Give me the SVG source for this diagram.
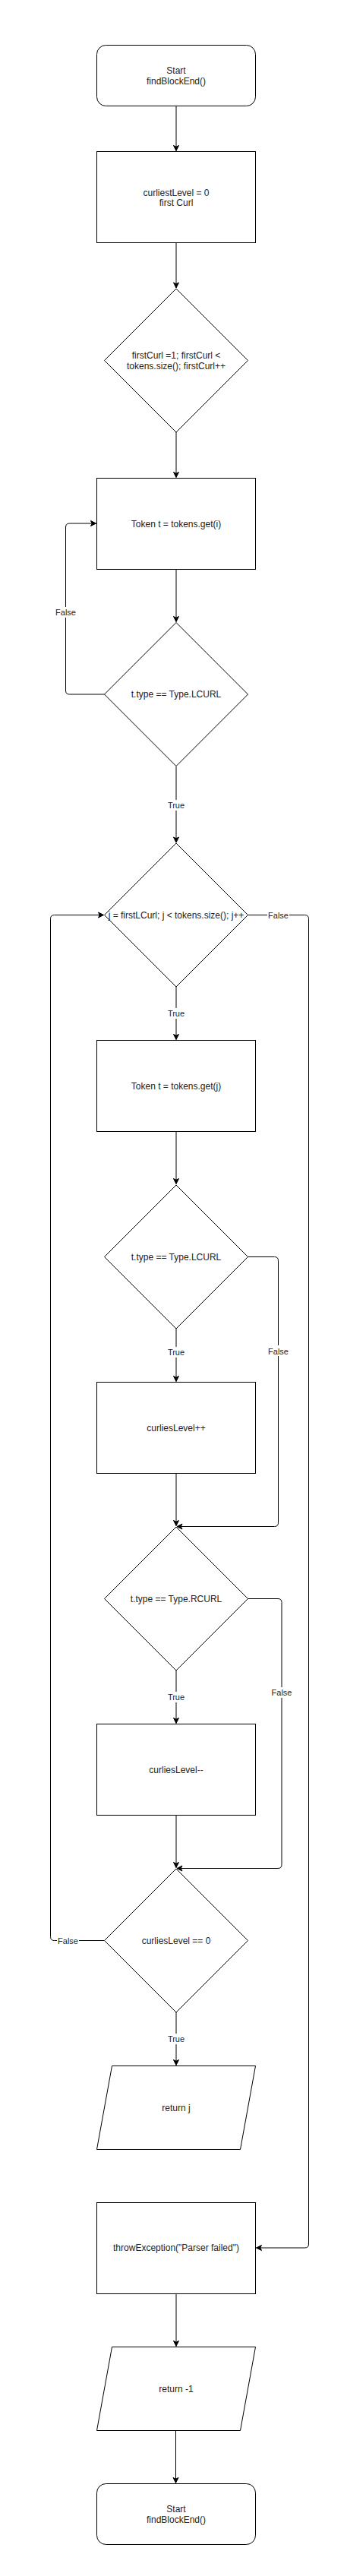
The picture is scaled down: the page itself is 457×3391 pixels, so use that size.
<svg xmlns="http://www.w3.org/2000/svg" width="457" height="3391" viewBox="0 0 457 3391">
<style>
.n{fill:#fff;stroke:#000;stroke-width:1}
.t{font-family:"Liberation Sans",Arial,sans-serif;font-size:12px;fill:#222;text-anchor:middle}
.e{fill:none;stroke:#000;stroke-width:1}
.l{font-family:"Liberation Sans",Arial,sans-serif;font-size:11px;fill:#222;text-anchor:middle}
.lb{fill:#fff;stroke:none}
</style>
<defs>
<marker id="a" markerWidth="10" markerHeight="10" viewBox="-8 -5 10 10" refX="0" refY="0" orient="auto" markerUnits="userSpaceOnUse">
<path d="M-7,-3.5 L0,0 L-7,3.5 L-5.25,0 Z" fill="#000" stroke="#000" stroke-width="1"/>
</marker>
</defs>
<rect width="457" height="3391" fill="#fff"/>
<g id="connectors">
<path class="e" d="M232,139.5 L232,198.5" marker-end="url(#a)"/>
<path class="e" d="M232,319.5 L232,379" marker-end="url(#a)"/>
<path class="e" d="M232,569 L232,628.5" marker-end="url(#a)"/>
<path class="e" d="M232,749.5 L232,818.5" marker-end="url(#a)"/>
<path class="e" d="M137.5,914 L91.5,914 Q86.5,914 86.5,909 L86.5,694 Q86.5,689 91.5,689 L126.5,689" marker-end="url(#a)"/>
<path class="e" d="M232,1009 L232,1109" marker-end="url(#a)"/>
<path class="e" d="M232,1299 L232,1368.5" marker-end="url(#a)"/>
<path class="e" d="M326.5,1204.5 L401.5,1204.5 Q406.5,1204.5 406.5,1209.5 L406.5,2954 Q406.5,2959 401.5,2959 L337.5,2959" marker-end="url(#a)"/>
<path class="e" d="M137.5,2554.5 L71.5,2554.5 Q66.5,2554.5 66.5,2549.5 L66.5,1209.5 Q66.5,1204.5 71.5,1204.5 L136.5,1204.5" marker-end="url(#a)"/>
<path class="e" d="M232,1489.5 L232,1558.5" marker-end="url(#a)"/>
<path class="e" d="M232,1749 L232,1818.5" marker-end="url(#a)"/>
<path class="e" d="M326.5,1654.5 L361.5,1654.5 Q366.5,1654.5 366.5,1659.5 L366.5,2004.5 Q366.5,2009.5 361.5,2009.5 L233,2009.5" marker-end="url(#a)"/>
<path class="e" d="M232,1939.5 L232,2008.5" marker-end="url(#a)"/>
<path class="e" d="M232,2199 L232,2268.5" marker-end="url(#a)"/>
<path class="e" d="M326.5,2104.5 L366,2104.5 Q371,2104.5 371,2109.5 L371,2454.5 Q371,2459.5 366,2459.5 L233,2459.5" marker-end="url(#a)"/>
<path class="e" d="M232,2389.5 L232,2458.5" marker-end="url(#a)"/>
<path class="e" d="M232,2649 L232,2718.5" marker-end="url(#a)"/>
<path class="e" d="M232,3019.5 L232,3088.5" marker-end="url(#a)"/>
<path class="e" d="M231.5,3199.5 L231.5,3268.5" marker-end="url(#a)"/>
<g id="labels">
<rect class="lb" x="72" y="799" width="29" height="14"/><text class="l" x="86.5" y="810">False</text>
<rect class="lb" x="221" y="1053" width="23" height="14"/><text class="l" x="232" y="1064">True</text>
<rect class="lb" x="221" y="1327" width="23" height="14"/><text class="l" x="232" y="1338">True</text>
<rect class="lb" x="352" y="1197" width="29" height="14"/><text class="l" x="366.5" y="1208.5">False</text>
<rect class="lb" x="75" y="2547" width="29" height="14"/><text class="l" x="89.5" y="2558.5">False</text>
<rect class="lb" x="221" y="1773" width="23" height="14"/><text class="l" x="232" y="1784">True</text>
<rect class="lb" x="352" y="1771" width="29" height="14"/><text class="l" x="366.5" y="1782.5">False</text>
<rect class="lb" x="221" y="2227" width="23" height="14"/><text class="l" x="232" y="2238">True</text>
<rect class="lb" x="356" y="2221" width="29" height="14"/><text class="l" x="371" y="2232">False</text>
<rect class="lb" x="221" y="2677" width="23" height="14"/><text class="l" x="232" y="2688">True</text>
</g>
</g>
<g id="start"><rect class="n" x="127.5" y="59.5" width="209" height="80" rx="12" ry="12"/><text class="t" x="232" y="97">Start</text><text class="t" x="232" y="111">findBlockEnd()</text></g>
<g id="init"><rect class="n" x="127.5" y="199.5" width="209" height="120"/><text class="t" x="232" y="257.5">curliestLevel = 0</text><text class="t" x="232" y="271">first Curl</text></g>
<g id="loop1"><path class="n" d="M232,380 L326.5,474.5 L232,569 L137.5,474.5 Z"/><text class="t" x="232" y="471.5">firstCurl =1; firstCurl &lt;</text><text class="t" x="232" y="486">tokens.size(); firstCurl++</text></g>
<g id="get_i"><rect class="n" x="127.5" y="629.5" width="209" height="120"/><text class="t" x="232" y="693.5">Token t = tokens.get(i)</text></g>
<g id="cond1"><path class="n" d="M232,819.5 L326.5,914 L232,1008.5 L137.5,914 Z"/><text class="t" x="232" y="918">t.type == Type.LCURL</text></g>
<g id="loop2"><path class="n" d="M232,1110 L326.5,1204.5 L232,1299 L137.5,1204.5 Z"/><text class="t" x="232" y="1208.5">j = firstLCurl; j &lt; tokens.size(); j++</text></g>
<g id="get_j"><rect class="n" x="127.5" y="1369.5" width="209" height="120"/><text class="t" x="232" y="1433.5">Token t = tokens.get(j)</text></g>
<g id="cond2"><path class="n" d="M232,1560 L326.5,1654.5 L232,1749 L137.5,1654.5 Z"/><text class="t" x="232" y="1658.5">t.type == Type.LCURL</text></g>
<g id="inc"><rect class="n" x="127.5" y="1819.5" width="209" height="120"/><text class="t" x="232" y="1884">curliesLevel++</text></g>
<g id="cond3"><path class="n" d="M232,2010 L326.5,2104.5 L232,2199 L137.5,2104.5 Z"/><text class="t" x="232" y="2108.5">t.type == Type.RCURL</text></g>
<g id="dec"><rect class="n" x="127.5" y="2269.5" width="209" height="120"/><text class="t" x="232" y="2334">curliesLevel--</text></g>
<g id="cond4"><path class="n" d="M232,2460 L326.5,2554.5 L232,2649 L137.5,2554.5 Z"/><text class="t" x="232" y="2558.5">curliesLevel == 0</text></g>
<g id="ret_j"><path class="n" d="M147.5,2719.5 L336.5,2719.5 L316.5,2829.5 L127.5,2829.5 Z"/><text class="t" x="232" y="2778.5">return j</text></g>
<g id="throw"><rect class="n" x="127.5" y="2899.5" width="209" height="120"/><text class="t" x="232" y="2963">throwException("Parser failed")</text></g>
<g id="ret_m1"><path class="n" d="M147.5,3089.5 L336.5,3089.5 L316.5,3199.5 L127.5,3199.5 Z"/><text class="t" x="232" y="3148.5">return -1</text></g>
<g id="end"><rect class="n" x="127.5" y="3269.5" width="209" height="80" rx="12" ry="12"/><text class="t" x="232" y="3307">Start</text><text class="t" x="232" y="3321">findBlockEnd()</text></g>
</svg>
